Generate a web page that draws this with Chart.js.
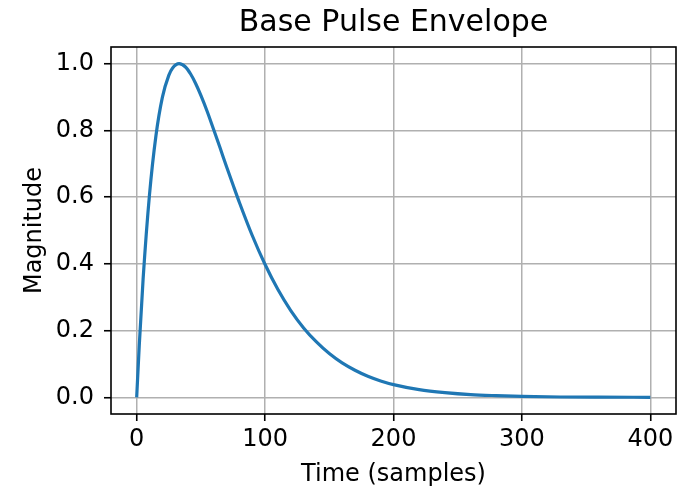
<!DOCTYPE html>
<html>
<head>
<meta charset="utf-8">
<script src="https://cdn.jsdelivr.net/npm/chart.js@4/dist/chart.umd.min.js"></script>
<style>
  html, body { margin: 0; padding: 0; background: #ffffff; }
  #wrap { width: 683px; height: 501px; }
</style>
</head>
<body>
<div id="wrap"><canvas id="c" width="683" height="501"></canvas></div>
<script>
// ---- data ----
const chartTitle = "Base Pulse Envelope";
const xAxisTitle = "Time (samples)";
const yAxisTitle = "Magnitude";
const timeSamples = [0, 2, 5, 10, 15, 20, 25, 28, 33, 38, 42, 46, 50, 55, 60, 65, 70, 75, 80, 90, 100,
  110, 120, 130, 140, 150, 160, 170, 180, 190, 200, 220, 240, 260, 280, 300, 330, 360, 400];
const magnitude = [0, 0.155, 0.354, 0.608, 0.784, 0.899, 0.965, 0.987, 1.000, 0.990, 0.969, 0.940, 0.905, 0.856, 0.802, 0.747, 0.691, 0.637, 0.584, 0.485, 0.398,
  0.323, 0.260, 0.208, 0.166, 0.131, 0.103, 0.081, 0.063, 0.049, 0.038, 0.023, 0.014, 0.008, 0.005, 0.003, 0.001, 0.0004, 0.0001];
const xTicks = [0, 100, 200, 300, 400];
const yTicks = [0.0, 0.2, 0.4, 0.6, 0.8, 1.0];

const points = timeSamples.map((t, i) => ({ x: t, y: magnitude[i] }));

const FONT = "'DejaVu Sans', sans-serif";
const gridColor = '#b0b0b0';

const frame = {
  id: 'frame',
  afterDatasetsDraw(chart) {
    const a = chart.chartArea;
    const ctx = chart.ctx;
    ctx.save();
    ctx.strokeStyle = '#000';
    ctx.lineWidth = 1.6;
    ctx.strokeRect(a.left, a.top, a.right - a.left, a.bottom - a.top);
    ctx.restore();
  }
};

new Chart(document.getElementById('c'), {
  type: 'line',
  data: {
    datasets: [{
      data: points,
      borderColor: '#1f77b4',
      borderWidth: 3.2,
      pointRadius: 0,
      fill: false,
      cubicInterpolationMode: 'monotone'
    }]
  },
  options: {
    responsive: false,
    animation: false,
    devicePixelRatio: 1,
    layout: { padding: { left: 0, right: 7, top: 0, bottom: 0 } },
    plugins: {
      legend: { display: false },
      tooltip: { enabled: false },
      title: {
        display: true,
        text: chartTitle,
        fullSize: false,
        color: '#000',
        font: { family: FONT, size: 30, weight: 'normal', lineHeight: 1.2 },
        padding: { top: 5, bottom: 6 }
      }
    },
    scales: {
      x: {
        type: 'linear',
        min: -20,
        max: 420,
        afterBuildTicks(s) { s.ticks = xTicks.map(v => ({ value: v })); },
        afterFit(s) { s.height = 87; },
        ticks: {
          color: '#000',
          font: { family: FONT, size: 24 },
          padding: 4,
          maxRotation: 0,
          autoSkip: false,
          callback: v => String(v)
        },
        grid: {
          color: gridColor,
          lineWidth: 1.5,
          tickColor: '#000',
          tickLength: 7,
          tickWidth: 1.6,
          drawTicks: true
        },
        border: { display: false },
        title: {
          display: true,
          text: xAxisTitle,
          color: '#000',
          font: { family: FONT, size: 24, lineHeight: 1.2 },
          padding: { top: 0, bottom: 11.6 }
        }
      },
      y: {
        type: 'linear',
        min: -0.05,
        max: 1.05,
        afterBuildTicks(s) { s.ticks = yTicks.map(v => ({ value: v })); },
        afterFit(s) { s.width = 111; },
        ticks: {
          color: '#000',
          font: { family: FONT, size: 24 },
          padding: 10,
          autoSkip: false,
          callback: v => Number(v).toFixed(1)
        },
        grid: {
          color: gridColor,
          lineWidth: 1.5,
          tickColor: '#000',
          tickLength: 7,
          tickWidth: 1.6,
          drawTicks: true
        },
        border: { display: false },
        title: {
          display: true,
          text: yAxisTitle,
          color: '#000',
          font: { family: FONT, size: 24, lineHeight: 1.2 },
          padding: { top: 20, bottom: 0 }
        }
      }
    }
  },
  plugins: [frame]
});
</script>
</body>
</html>
